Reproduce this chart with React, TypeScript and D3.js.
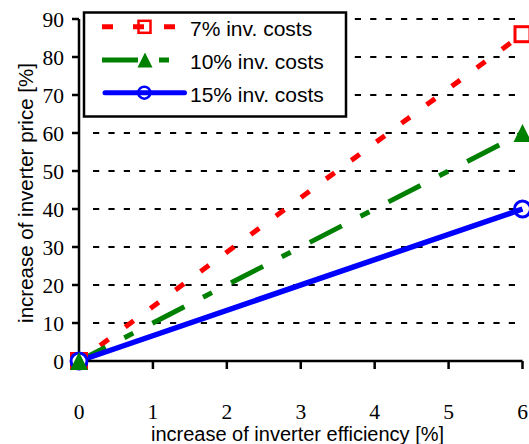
import React from "react";
import * as d3 from "d3";

const xTicks = [0, 1, 2, 3, 4, 5, 6];
const yTicks = [0, 10, 20, 30, 40, 50, 60, 70, 80, 90];
const effIncrease = [0, 6];
const price7 = [0, 86];
const price10 = [0, 60];
const price15 = [0, 40];

const seriesNames = ["7% inv. costs", "10% inv. costs", "15% inv. costs"];

const W = 529;
const H = 444;

export default function App() {
  const x = d3.scaleLinear().domain([0, 6]).range([79, 522.5]);
  const y = d3.scaleLinear().domain([0, 90]).range([361, 19]);
  const line = d3
    .line<[number, number]>()
    .x((d) => x(d[0]))
    .y((d) => y(d[1]));

  const pts = (vals: number[]) =>
    effIncrease.map((e, i) => [e, vals[i]] as [number, number]);

  const sans = { fontFamily: "Liberation Sans" };
  const serif = { fontFamily: "Liberation Serif" };

  const tri = (cx: number, cy: number, s: number) =>
    `M${cx},${cy - s / 2} L${cx + s / 2},${cy + s / 2} L${cx - s / 2},${cy + s / 2} Z`;

  const legY = [26.8, 60, 92.7];

  return (
    <svg
      width={W}
      height={H}
      style={{ position: "absolute", left: 0, top: 0, display: "block", background: "#fff" }}
    >
      <rect x={0} y={0} width={W} height={H} fill="#fff" />
      {/* gridlines */}
      {yTicks
        .filter((t) => t > 0)
        .map((t) => (
          <line
            key={"g" + t}
            x1={93}
            x2={516}
            y1={y(t)}
            y2={y(t)}
            stroke="#000"
            strokeWidth={2.2}
            strokeDasharray="6.2,9.2"
          />
        ))}

      {/* series lines */}
      <path
        d={line(pts(price7)) || ""}
        fill="none"
        stroke="#ff0000"
        strokeWidth={5}
        strokeDasharray="10.5,20.7"
        strokeDashoffset={5}
      />
      <path
        d={line(pts(price10)) || ""}
        fill="none"
        stroke="#008000"
        strokeWidth={5}
        strokeDasharray="36,21,10,21.5"
        strokeDashoffset={6}
      />
      <path
        d={line(pts(price15)) || ""}
        fill="none"
        stroke="#0000ff"
        strokeWidth={5.5}
      />

      {/* axes */}
      <line x1={x(0)} x2={x(0)} y1={y(90)} y2={y(0)} stroke="#000" strokeWidth={2.5} />
      <line x1={x(0)} x2={x(6)} y1={y(0)} y2={y(0)} stroke="#000" strokeWidth={2.5} />
      {yTicks.map((t) => (
        <g key={"yt" + t}>
          <line x1={x(0) - 7} x2={x(0)} y1={y(t)} y2={y(t)} stroke="#000" strokeWidth={2.5} />
          <text
            x={64}
            y={y(t) + 7.5}
            textAnchor="end"
            style={serif}
            fontSize={21.5}
            fill="#000"
          >
            {t}
          </text>
        </g>
      ))}
      {xTicks.map((t) => (
        <g key={"xt" + t}>
          <line x1={x(t)} x2={x(t)} y1={y(0)} y2={y(0) + 8} stroke="#000" strokeWidth={2.5} />
          <text
            x={x(t)}
            y={418.5}
            textAnchor="middle"
            style={serif}
            fontSize={21.5}
            fill="#000"
          >
            {t}
          </text>
        </g>
      ))}

      {/* markers */}
      {pts(price7).map((d, i) => (
        <rect
          key={"m7" + i}
          x={x(d[0]) - 7.5}
          y={y(d[1]) - 7.5}
          width={15}
          height={15}
          fill={i === 0 ? "#ff0000" : "none"}
          stroke="#ff0000"
          strokeWidth={3}
        />
      ))}
      {pts(price15).map((d, i) => (
        <circle
          key={"m15" + i}
          cx={x(d[0])}
          cy={y(d[1])}
          r={8}
          fill={i === 0 ? "#fff" : "none"}
          stroke="#0000ff"
          strokeWidth={3}
        />
      ))}
      {pts(price10).map((d, i) => (
        <path key={"m10" + i} d={tri(x(d[0]), y(d[1]), 18)} fill="#008000" />
      ))}

      {/* legend */}
      <rect x={84} y={12.5} width={262} height={104} fill="#fff" stroke="#000" strokeWidth={2.5} />
      <line x1={102} x2={175} y1={legY[0]} y2={legY[0]} stroke="#ff0000" strokeWidth={5} strokeDasharray="11,20" />
      <rect x={144.5 - 6} y={legY[0] - 6} width={12} height={12} fill="none" stroke="#ff0000" strokeWidth={2.5} />
      <line x1={102} x2={169} y1={legY[1]} y2={legY[1]} stroke="#008000" strokeWidth={5} strokeDasharray="36,21,10,21" />
      <path d={tri(145, legY[1], 15)} fill="#008000" />
      <line x1={105} x2={184.5} y1={legY[2]} y2={legY[2]} stroke="#0000ff" strokeWidth={5} strokeLinecap="round" />
      <circle cx={144.3} cy={legY[2]} r={6} fill="none" stroke="#0000ff" strokeWidth={2.5} />
      {seriesNames.map((n, i) => (
        <text key={n} x={190} y={legY[i] + 9} style={sans} fontSize={21} fill="#000">
          {n}
        </text>
      ))}

      {/* axis titles */}
      <text x={297.5} y={440.5} textAnchor="middle" style={sans} fontSize={20} fill="#000">
        increase of inverter efficiency [%]
      </text>
      <text
        transform="translate(33,193) rotate(-90)"
        textAnchor="middle"
        style={sans}
        fontSize={20.5}
        fill="#000"
      >
        increase of inverter price [%]
      </text>
    </svg>
  );
}
